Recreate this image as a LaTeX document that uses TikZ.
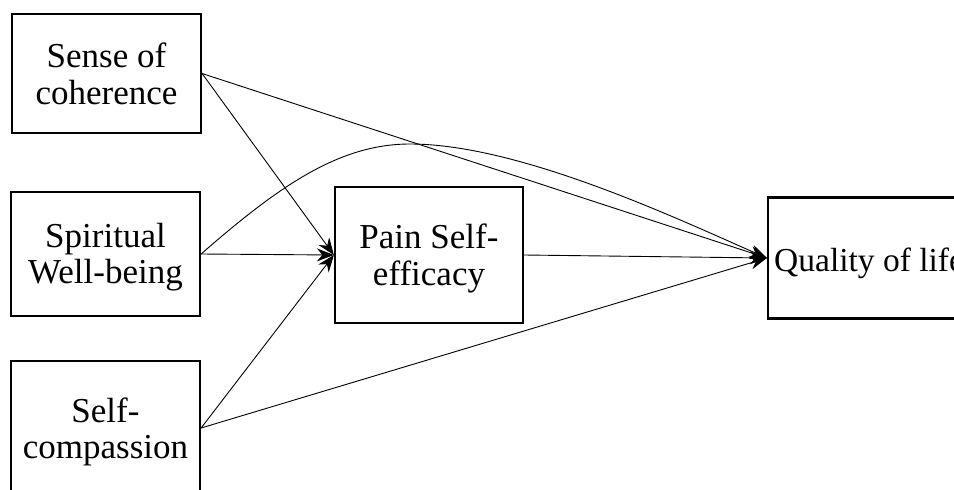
\documentclass[tikz,border=0pt]{standalone}
\usepackage{fontspec}
\setmainfont{Liberation Serif}
\usetikzlibrary{arrows.meta}
\begin{document}
\begin{tikzpicture}[x=1pt,y=-1pt,
  box/.style={draw, line width=2.2pt, inner sep=0pt},
  txt/.style={anchor=base, inner sep=0pt, font=\fontsize{35}{37}\selectfont},
  conn/.style={line width=0.9pt, -{Stealth[length=17pt,width=13pt]}},
  ]
\useasboundingbox (0,0) rectangle (954,490);
% boxes
\node[box, minimum width=189pt, minimum height=119pt] (soc) at (106.5,73.5) {};
\node[box, minimum width=189pt, minimum height=124pt] (sw) at (105.5,254) {};
\node[box, minimum width=189pt, minimum height=134pt] (sc) at (105.5,428) {};
\node[box, minimum width=188pt, minimum height=136pt] (pain) at (429,255) {};
\node[box, minimum width=200pt, minimum height=121pt] (qol) at (868,258) {};
% texts
\node[txt] (t1a) at (106.5,67) {Sense of};
\node[txt] (t1b) at (106.5,104) {coherence};
\node[txt] (t2a) at (105.5,247) {Spiritual};
\node[txt] (t2b) at (105.5,283) {Well-being};
\node[txt] (t3a) at (105.5,422) {Self-};
\node[txt] (t3b) at (105.5,458) {compassion};
\node[txt] (t4a) at (429,248) {Pain Self-};
\node[txt] (t4b) at (429,285) {efficacy};
\node[txt, anchor=base west, font=\fontsize{33.5}{37}\selectfont] (t5) at (774,271) {Quality of life};
% connectors
\draw[conn] (soc.east) -- (pain.west);
\draw[conn] (sw.east) -- (pain.west);
\draw[conn] (sc.east) -- (pain.west);
\draw[conn] (soc.east) -- (qol.west);
\draw[conn] (sc.east) -- (qol.west);
\draw[conn] (pain.east) -- (qol.west);
\draw[conn] (sw.east) .. controls (280,185) and (340,144) .. (410,144)
  .. controls (520,144) and (680,220) .. (qol.west);
\end{tikzpicture}
\end{document}
